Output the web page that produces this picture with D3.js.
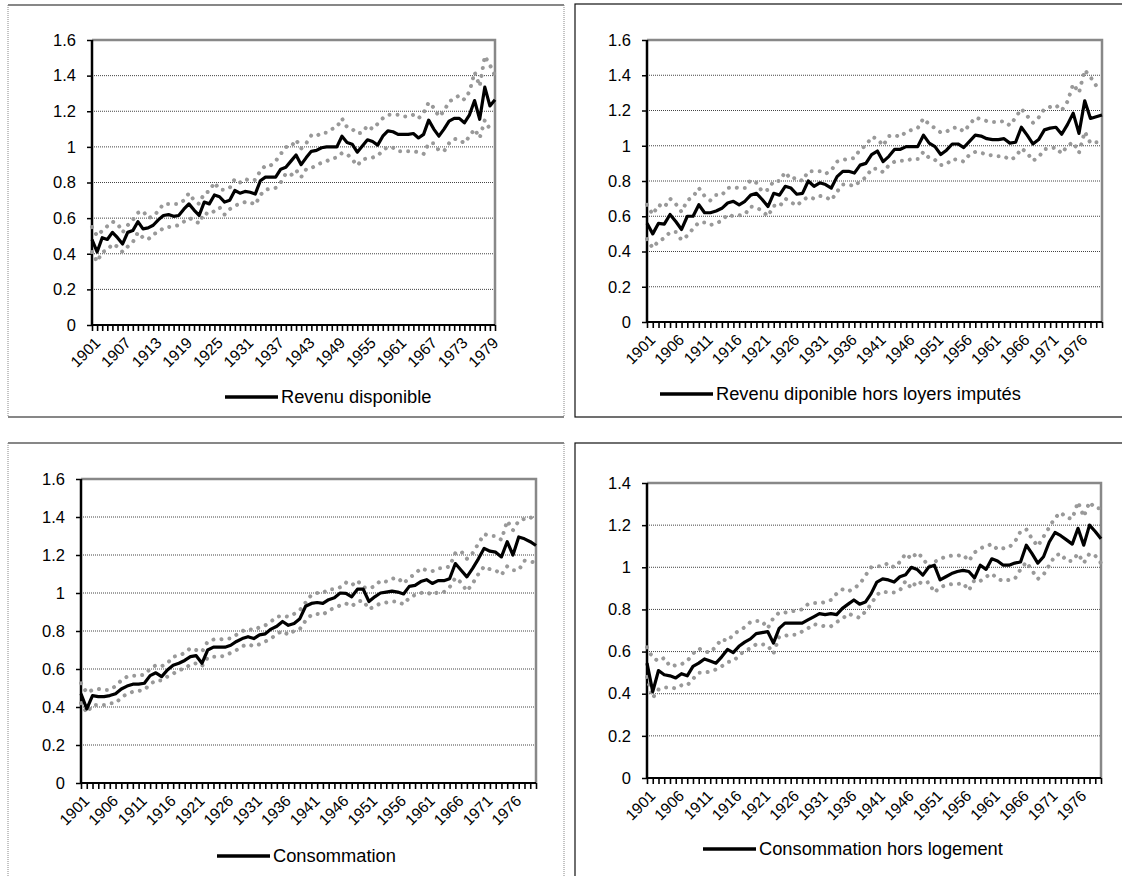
<!DOCTYPE html>
<html>
<head>
<meta charset="utf-8">
<script src="https://cdn.jsdelivr.net/npm/d3@7"></script>
<style>
  body { margin: 0; background: #fff; }
  svg text { font-family: "Liberation Sans", Arial, sans-serif; fill: #000; }
</style>
</head>
<body>
<div id="chart"></div>
<script>
// categories (years on the x axis) and the labelled years
var years = d3.range(1901, 1981);
var labels6 = [1901, 1907, 1913, 1919, 1925, 1931, 1937, 1943, 1949, 1955, 1961, 1967, 1973, 1979];
var labels5 = [1901, 1906, 1911, 1916, 1921, 1926, 1931, 1936, 1941, 1946, 1951, 1956, 1961, 1966, 1971, 1976];

// Revenu disponible
var revLine = [0.48,0.41,0.49,0.48,0.52,0.49,0.455,0.52,0.53,0.58,0.54,0.545,0.56,0.59,0.615,0.62,0.61,0.615,0.65,0.68,
  0.645,0.615,0.69,0.68,0.73,0.72,0.69,0.70,0.755,0.74,0.75,0.745,0.735,0.81,0.83,0.83,0.83,0.875,0.885,0.92,
  0.955,0.90,0.94,0.975,0.98,0.995,1.0,1.0,1.0,1.06,1.025,1.015,0.97,1.005,1.04,1.03,1.01,1.06,1.09,1.085,
  1.07,1.07,1.07,1.075,1.05,1.07,1.15,1.10,1.06,1.10,1.145,1.16,1.16,1.135,1.18,1.26,1.155,1.335,1.23,1.265];
var revUpper = [0.55,0.50,0.53,0.555,0.58,0.57,0.52,0.56,0.59,0.63,0.64,0.60,0.61,0.64,0.68,0.68,0.68,0.68,0.70,0.74,
  0.70,0.68,0.74,0.75,0.80,0.76,0.76,0.77,0.82,0.80,0.82,0.81,0.815,0.865,0.895,0.895,0.92,0.96,1.00,1.00,
  1.04,0.99,1.02,1.065,1.06,1.08,1.08,1.10,1.11,1.16,1.11,1.10,1.075,1.08,1.12,1.10,1.13,1.16,1.18,1.18,
  1.18,1.17,1.17,1.18,1.16,1.19,1.25,1.22,1.17,1.20,1.255,1.27,1.29,1.265,1.31,1.42,1.34,1.51,1.46,1.40];
var revLower = [0.41,0.355,0.41,0.42,0.455,0.44,0.41,0.44,0.465,0.52,0.49,0.48,0.51,0.52,0.545,0.55,0.555,0.56,0.58,0.60,
  0.59,0.57,0.63,0.62,0.64,0.66,0.62,0.65,0.67,0.68,0.69,0.69,0.675,0.73,0.76,0.765,0.77,0.80,0.85,0.84,
  0.87,0.83,0.875,0.88,0.90,0.91,0.92,0.935,0.94,0.965,0.96,0.93,0.895,0.93,0.935,0.94,0.95,0.98,1.00,0.995,
  0.975,0.975,0.975,0.975,0.97,0.96,1.02,1.02,0.98,0.975,1.02,1.045,1.04,1.02,1.06,1.10,1.05,1.15,1.10,1.10];

// Revenu diponible hors loyers imputés
var rhlLine = [0.56,0.50,0.56,0.555,0.61,0.57,0.525,0.60,0.60,0.665,0.62,0.62,0.63,0.645,0.675,0.685,0.665,0.685,0.72,0.73,
  0.695,0.655,0.73,0.72,0.77,0.76,0.725,0.73,0.80,0.77,0.79,0.78,0.76,0.825,0.855,0.855,0.845,0.89,0.90,0.95,
  0.97,0.91,0.94,0.98,0.98,0.995,0.995,0.995,1.06,1.015,0.995,0.95,0.975,1.01,1.01,0.99,1.025,1.06,1.055,1.04,
  1.035,1.035,1.04,1.015,1.02,1.105,1.06,1.01,1.035,1.09,1.10,1.105,1.065,1.12,1.185,1.07,1.255,1.155,1.165,1.175];
var rhlUpper = [0.665,0.61,0.665,0.65,0.70,0.67,0.625,0.69,0.71,0.76,0.715,0.69,0.72,0.72,0.76,0.765,0.76,0.76,0.805,0.79,
  0.74,0.75,0.80,0.80,0.85,0.81,0.82,0.80,0.855,0.855,0.855,0.84,0.86,0.91,0.92,0.925,0.93,0.98,1.00,1.05,
  1.04,1.00,1.055,1.06,1.05,1.08,1.09,1.10,1.155,1.12,1.10,1.075,1.08,1.10,1.105,1.08,1.12,1.16,1.15,1.14,
  1.135,1.135,1.14,1.115,1.16,1.21,1.17,1.13,1.16,1.21,1.22,1.23,1.20,1.25,1.35,1.30,1.43,1.39,1.34,1.34];
var rhlLower = [0.47,0.42,0.46,0.475,0.51,0.51,0.465,0.49,0.53,0.565,0.565,0.55,0.56,0.575,0.61,0.60,0.605,0.61,0.655,0.65,
  0.63,0.60,0.66,0.655,0.70,0.68,0.66,0.69,0.71,0.70,0.715,0.71,0.69,0.74,0.78,0.78,0.77,0.80,0.82,0.87,
  0.87,0.85,0.89,0.91,0.915,0.915,0.925,0.925,0.965,0.93,0.92,0.89,0.895,0.925,0.92,0.91,0.95,0.965,0.96,0.95,
  0.945,0.94,0.94,0.92,0.935,0.985,0.96,0.915,0.935,0.98,0.985,0.99,0.955,1.00,1.02,0.96,1.08,1.015,1.02,1.02];

// Consommation
var conLine = [0.47,0.39,0.46,0.455,0.455,0.46,0.47,0.495,0.51,0.52,0.52,0.525,0.565,0.58,0.56,0.595,0.62,0.63,0.645,0.665,
  0.67,0.63,0.70,0.715,0.715,0.715,0.725,0.745,0.76,0.77,0.76,0.78,0.785,0.81,0.825,0.85,0.83,0.84,0.865,0.93,
  0.945,0.95,0.945,0.965,0.975,1.00,0.998,0.98,1.02,1.02,0.955,0.98,1.00,1.005,1.01,1.005,0.995,1.035,1.04,1.06,
  1.07,1.05,1.065,1.065,1.075,1.155,1.12,1.085,1.13,1.18,1.235,1.22,1.215,1.19,1.27,1.20,1.295,1.285,1.27,1.25];
var conUpper = [0.525,0.475,0.49,0.495,0.49,0.49,0.51,0.54,0.56,0.565,0.565,0.57,0.60,0.62,0.615,0.63,0.665,0.67,0.685,0.71,
  0.70,0.69,0.745,0.755,0.755,0.76,0.76,0.78,0.80,0.81,0.805,0.82,0.83,0.85,0.875,0.88,0.875,0.89,0.91,0.95,
  0.99,1.00,1.00,1.02,1.02,1.03,1.055,1.04,1.065,1.03,1.025,1.035,1.065,1.06,1.075,1.08,1.05,1.08,1.10,1.13,
  1.12,1.115,1.13,1.13,1.14,1.21,1.22,1.18,1.21,1.26,1.31,1.30,1.30,1.28,1.38,1.33,1.38,1.39,1.40,1.37];
var conLower = [0.42,0.37,0.41,0.41,0.41,0.42,0.42,0.45,0.47,0.48,0.485,0.49,0.52,0.54,0.54,0.56,0.575,0.595,0.60,0.625,
  0.63,0.615,0.66,0.665,0.665,0.67,0.685,0.70,0.72,0.73,0.72,0.73,0.745,0.76,0.785,0.80,0.78,0.80,0.81,0.855,
  0.885,0.89,0.885,0.91,0.92,0.935,0.945,0.93,0.955,0.96,0.915,0.93,0.945,0.95,0.955,0.955,0.94,0.975,0.99,1.00,
  1.005,0.99,1.005,1.005,1.03,1.08,1.055,1.01,1.05,1.10,1.14,1.125,1.12,1.095,1.14,1.12,1.12,1.17,1.165,1.16];

// Consommation hors logement
var chlLine = [0.545,0.41,0.51,0.49,0.485,0.475,0.495,0.485,0.53,0.545,0.565,0.555,0.545,0.575,0.61,0.595,0.625,0.645,0.66,0.685,
  0.69,0.695,0.64,0.71,0.735,0.735,0.735,0.735,0.75,0.765,0.78,0.775,0.78,0.775,0.805,0.825,0.845,0.825,0.835,0.875,
  0.93,0.945,0.94,0.93,0.955,0.965,1.0,0.99,0.963,1.0,1.01,0.94,0.955,0.97,0.98,0.985,0.98,0.95,1.01,0.99,
  1.04,1.03,1.01,1.01,1.02,1.025,1.105,1.065,1.02,1.05,1.12,1.165,1.15,1.13,1.11,1.185,1.105,1.20,1.17,1.135];
var chlUpper = [0.62,0.57,0.555,0.57,0.53,0.535,0.54,0.555,0.59,0.615,0.60,0.595,0.625,0.66,0.65,0.68,0.70,0.715,0.74,0.745,
  0.745,0.71,0.76,0.785,0.785,0.79,0.795,0.80,0.825,0.83,0.83,0.835,0.845,0.875,0.895,0.885,0.90,0.92,0.96,1.00,
  1.005,1.005,1.02,1.00,1.025,1.065,1.04,1.07,1.045,1.00,1.025,1.04,1.05,1.055,1.055,1.06,1.03,1.07,1.09,1.10,
  1.11,1.085,1.09,1.095,1.12,1.17,1.18,1.135,1.10,1.145,1.19,1.235,1.26,1.235,1.23,1.31,1.24,1.31,1.28,1.28];
var chlLower = [0.48,0.38,0.42,0.43,0.43,0.425,0.44,0.44,0.47,0.50,0.50,0.505,0.515,0.53,0.55,0.555,0.58,0.605,0.615,0.635,
  0.635,0.63,0.59,0.67,0.675,0.68,0.68,0.695,0.71,0.73,0.725,0.72,0.72,0.74,0.755,0.78,0.77,0.76,0.79,0.825,
  0.87,0.885,0.88,0.88,0.89,0.935,0.90,0.935,0.92,0.93,0.88,0.905,0.915,0.92,0.92,0.925,0.89,0.94,0.935,0.955,
  0.97,0.945,0.935,0.94,0.945,0.99,1.025,0.985,0.945,0.965,1.01,1.055,1.065,1.03,1.03,1.065,1.02,1.065,1.055,1.02];

var yTicks16 = [0, 0.2, 0.4, 0.6, 0.8, 1, 1.2, 1.4, 1.6];
var yTicks14 = [0, 0.2, 0.4, 0.6, 0.8, 1, 1.2, 1.4];

//Panel frames and plot areas
var panels = [
  { frame: [8, 5, 564, 417], dotted: true, plot: { left: 92, right: 495, top: 40, bottom: 325 },
    yMax: 1.6, yTicks: yTicks16, xLabels: labels6, name: "Revenu disponible",
    line: revLine, upper: revUpper, lower: revLower, legend: { x: 225, y: 397 } },
  { frame: [575, 4, 1135, 417], dotted: false, plot: { left: 647, right: 1102, top: 40, bottom: 322 },
    yMax: 1.6, yTicks: yTicks16, xLabels: labels5, name: "Revenu diponible hors loyers imputés",
    line: rhlLine, upper: rhlUpper, lower: rhlLower, legend: { x: 660, y: 394 } },
  { frame: [8, 443, 564, 890], dotted: true, plot: { left: 81, right: 536, top: 479, bottom: 783 },
    yMax: 1.6, yTicks: yTicks16, xLabels: labels5, name: "Consommation",
    line: conLine, upper: conUpper, lower: conLower, legend: { x: 217, y: 856 } },
  { frame: [575, 443, 1135, 890], dotted: false, plot: { left: 647, right: 1101, top: 483, bottom: 778 },
    yMax: 1.4, yTicks: yTicks14, xLabels: labels5, name: "Consommation hors logement",
    line: chlLine, upper: chlUpper, lower: chlLower, legend: { x: 703, y: 849 } }
];

var svg = d3.select("#chart").append("svg")
    .attr("width", 1122)
    .attr("height", 876);

panels.forEach(function(p) {
    var f = p.frame;
    var g = svg.append("g");

    //frame
    if (p.dotted) {
        g.append("line").attr("x1", f[0]).attr("x2", f[2]).attr("y1", f[1]).attr("y2", f[1])
            .attr("stroke", "#111").attr("stroke-width", 1.2);
        g.append("line").attr("x1", f[0]).attr("x2", f[2]).attr("y1", f[3]).attr("y2", f[3])
            .attr("stroke", "#111").attr("stroke-width", 1.2);
        [f[0], f[2]].forEach(function(x) {
            g.append("line").attr("x1", x).attr("x2", x).attr("y1", f[1]).attr("y2", f[3])
                .attr("stroke", "#888").attr("stroke-width", 1).attr("stroke-dasharray", "1,1");
        });
    } else {
        g.append("rect").attr("x", f[0]).attr("y", f[1])
            .attr("width", f[2] - f[0]).attr("height", f[3] - f[1])
            .attr("fill", "none").attr("stroke", "#111").attr("stroke-width", 1.2);
    }

    var pl = p.plot;
    var x = d3.scalePoint().domain(years).range([pl.left, pl.right]);
    var y = d3.scaleLinear().domain([0, p.yMax]).range([pl.bottom, pl.top]);

    //gridlines
    g.selectAll(".grid").data(p.yTicks.filter(function(d) { return d > 0 && d < p.yMax; }))
        .enter().append("line")
        .attr("x1", pl.left).attr("x2", pl.right)
        .attr("y1", d => y(d)).attr("y2", d => y(d))
        .attr("stroke", "#444").attr("stroke-width", 1).attr("stroke-dasharray", "1,1");

    //top and right border
    g.append("path")
        .attr("d", `M${pl.left},${y(p.yMax)}H${pl.right}V${pl.bottom}`)
        .attr("fill", "none").attr("stroke", "#888").attr("stroke-width", 2.5);

    //y axis
    var yAxis = g.append("g")
        .attr("transform", `translate(${pl.left},0)`)
        .call(d3.axisLeft(y).tickValues(p.yTicks).tickSize(5).tickPadding(11)
            .tickFormat(d => String(+d.toFixed(1))));
    yAxis.select(".domain").remove();
    yAxis.selectAll("line").attr("stroke", "#000").attr("stroke-width", 1.5);
    yAxis.selectAll("text").attr("font-size", 16.5).attr("font-family", null);

    //x axis
    var xAxis = g.append("g")
        .attr("transform", `translate(0,${pl.bottom})`)
        .call(d3.axisBottom(x).tickSize(6).tickFormat(d => p.xLabels.indexOf(d) >= 0 ? d : ""));
    xAxis.select(".domain").remove();
    xAxis.selectAll("line").attr("stroke", "#000").attr("stroke-width", 1.6);
    xAxis.selectAll("text")
        .attr("font-size", 15.5).attr("font-family", null)
        .attr("text-anchor", "end")
        .attr("x", 0).attr("y", 0).attr("dy", "0.35em")
        .attr("transform", "translate(5,15) rotate(-45)");

    //axis lines
    g.append("line").attr("x1", pl.left).attr("x2", pl.left).attr("y1", y(p.yMax)).attr("y2", pl.bottom)
        .attr("stroke", "#000").attr("stroke-width", 2.5);
    g.append("line").attr("x1", pl.left).attr("x2", pl.right).attr("y1", pl.bottom).attr("y2", pl.bottom)
        .attr("stroke", "#000").attr("stroke-width", 2);

    var lineGen = d3.line()
        .x((d, i) => x(years[i]))
        .y(d => y(d));

    //grey dotted bands
    [p.upper, p.lower].forEach(function(band) {
        g.append("path").datum(band)
            .attr("d", lineGen)
            .attr("fill", "none")
            .attr("stroke", "#999")
            .attr("stroke-width", 4)
            .attr("stroke-linecap", "round")
            .attr("stroke-dasharray", "0.01,8");
    });

    //main series
    g.append("path").datum(p.line)
        .attr("d", lineGen)
        .attr("fill", "none")
        .attr("stroke", "#000")
        .attr("stroke-width", 3.2)
        .attr("stroke-linejoin", "round");

    //legend
    g.append("line")
        .attr("x1", p.legend.x).attr("x2", p.legend.x + 53)
        .attr("y1", p.legend.y).attr("y2", p.legend.y)
        .attr("stroke", "#000").attr("stroke-width", 3.5);
    g.append("text")
        .attr("x", p.legend.x + 56).attr("y", p.legend.y)
        .attr("dy", "0.35em")
        .attr("font-size", 18.3)
        .text(p.name);
});
</script>
</body>
</html>
